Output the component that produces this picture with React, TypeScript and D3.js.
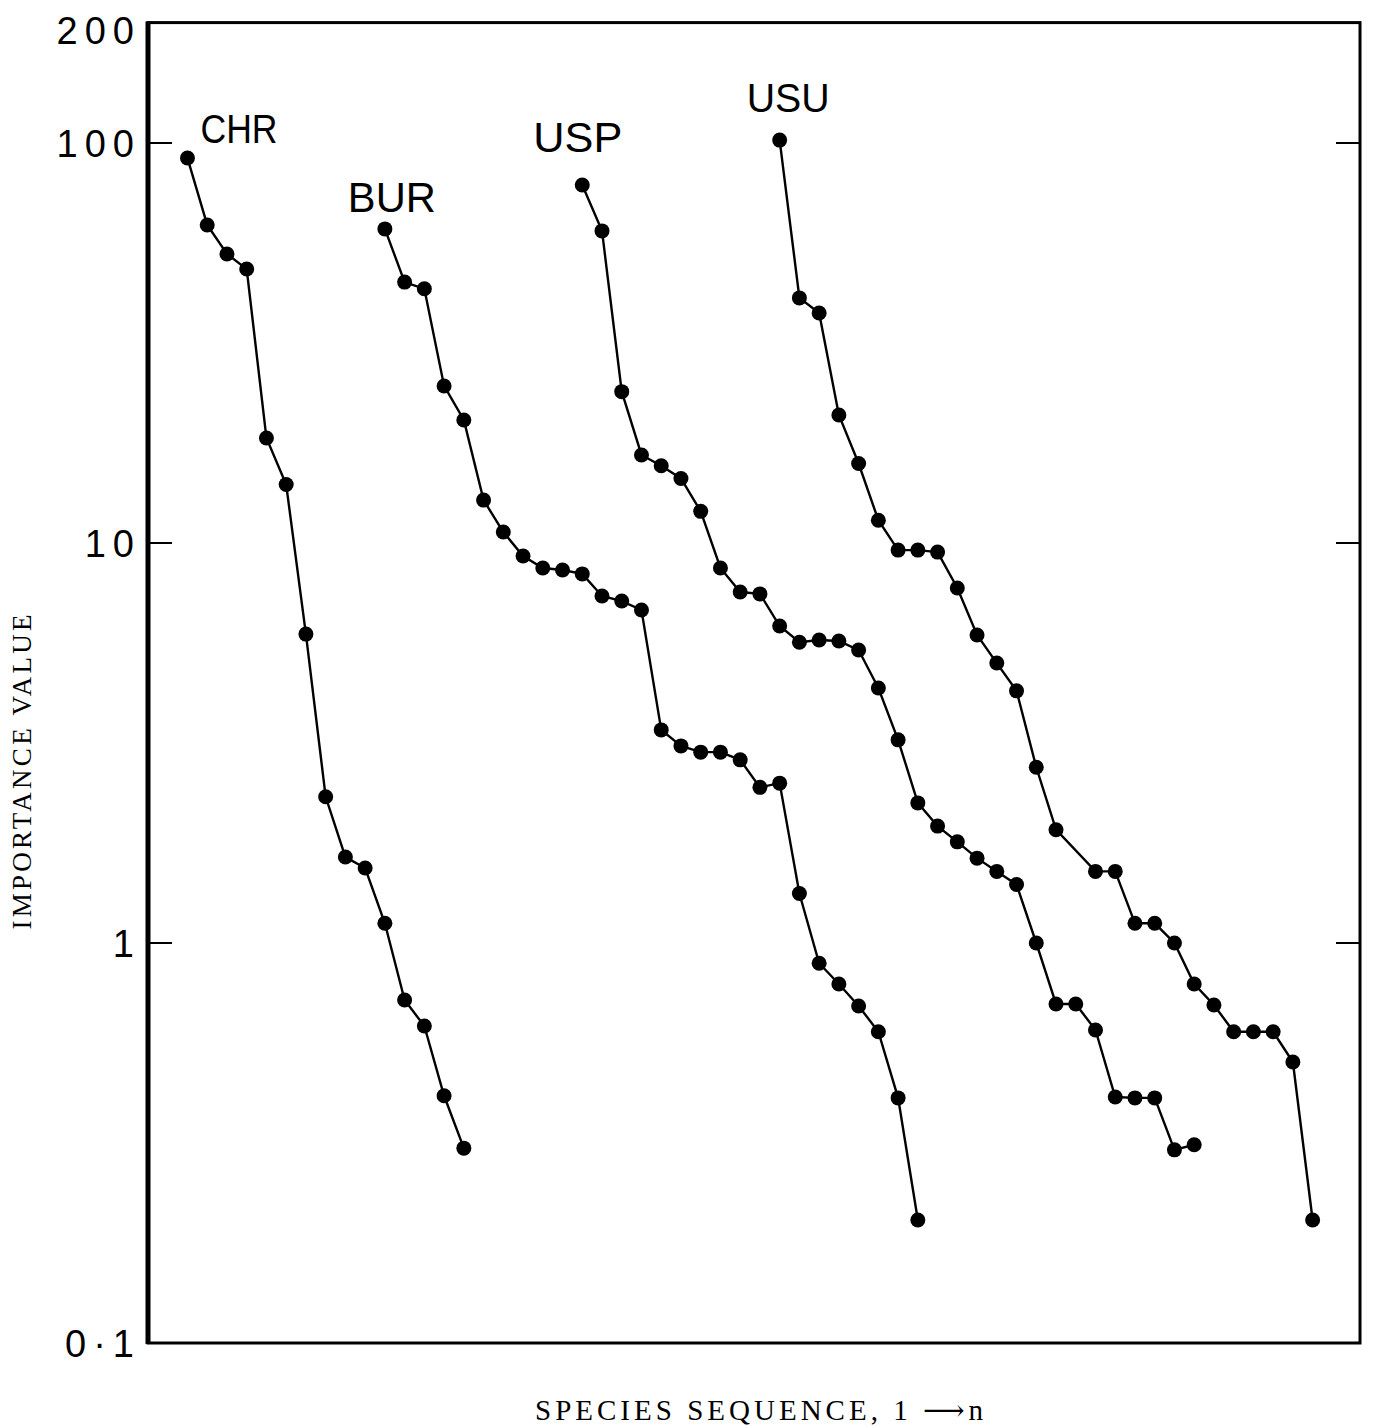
import React from "react";
import * as d3 from "d3";

const W = 1380;
const H = 1426;

// importance values, one list per site
const chrValues = [91.7, 62.4, 52.8, 48.4, 18.3, 14.0, 5.92, 2.32, 1.64, 1.54, 1.12, 0.72, 0.62, 0.415, 0.307];
const burValues = [
  61.0, 44.9, 43.2, 24.7, 20.3, 12.8, 10.65, 9.28, 8.66, 8.56, 8.37, 7.37, 7.16, 6.8,
  3.41, 3.11, 3.0, 3.0, 2.87, 2.45, 2.51, 1.33, 0.89, 0.79, 0.696, 0.6, 0.41, 0.203,
];
const uspValues = [
  78.5, 60.3, 23.9, 16.6, 15.6, 14.5, 12.0, 8.66, 7.54, 7.46, 6.2, 5.65, 5.72, 5.69, 5.4, 4.34,
  3.22, 2.24, 1.96, 1.79, 1.63, 1.51, 1.4, 1.0, 0.704, 0.704, 0.606, 0.412, 0.41, 0.41, 0.304, 0.313,
];
const usuValues = [
  101.7, 41.0, 37.6, 20.9, 15.8, 11.4, 9.6, 9.6, 9.49, 7.72, 5.89, 5.01, 4.27, 2.75, 1.92,
  1.51, 1.51, 1.12, 1.12, 1.0, 0.79, 0.7, 0.6, 0.6, 0.6, 0.504, 0.203,
];

// position along the species-sequence axis
const chrRanks = d3.range(0, 15);
const burRanks = d3.range(10, 38);
const uspRanks = d3.range(20, 52);
const usuRanks = [...d3.range(30, 45), ...d3.range(46, 58)];

const siteNames = ["CHR", "BUR", "USP", "USU"];
const yTickValues = [200, 100, 10, 1, 0.1];
const yTickLabels = ["200", "100", "10", "1", "0\u00b71"];

const series = [
  { name: siteNames[0], ranks: chrRanks, values: chrValues },
  { name: siteNames[1], ranks: burRanks, values: burValues },
  { name: siteNames[2], ranks: uspRanks, values: uspValues },
  { name: siteNames[3], ranks: usuRanks, values: usuValues },
];

// label placement relative to first point of each curve
const labelStyle: Record<string, { dx: number; dy: number; len: number; size: number }> = {
  CHR: { dx: 13, dy: -15, len: 77, size: 40 },
  BUR: { dx: -37, dy: -17, len: 88, size: 43 },
  USP: { dx: -49, dy: -33, len: 89, size: 43 },
  USU: { dx: -33, dy: -28, len: 83, size: 40 },
};

const left = 148;
const right = 1360;
const top = 22.6;
const bottom = 1343;

export default function App() {
  const x = d3.scaleLinear().domain([-2, 59.4]).range([left, right]);
  const y = d3.scaleLog().domain([0.1, 200]).range([bottom, top]);

  const line = d3
    .line<[number, number]>()
    .x((d) => x(d[0]))
    .y((d) => y(d[1]));

  return (
    <>
      <style>{`body{margin:0;background:#fff}`}</style>
      <svg width={W} height={H} style={{ display: "block", background: "#fff" }}>
        {/* frame */}
        <rect x={left} y={y(200)} width={right - left} height={y(0.1) - y(200)} fill="none" stroke="#000" strokeWidth={3} />
        <line x1={left} x2={left} y1={y(200) - 1} y2={y(0.1) + 1} stroke="#000" strokeWidth={5} />

        {/* ticks both sides */}
        {[100, 10, 1].map((t) => (
          <g key={t}>
            <line x1={left} x2={left + 24} y1={y(t)} y2={y(t)} stroke="#000" strokeWidth={2} />
            <line x1={right - 24} x2={right} y1={y(t)} y2={y(t)} stroke="#000" strokeWidth={2} />
          </g>
        ))}

        {yTickValues.map((t, i) => (
          <text
            key={t}
            x={141}
            y={y(t) + (t === 200 ? 21 : 14)}
            textAnchor="end"
            fontFamily="'Liberation Sans', Arial, sans-serif"
            fontSize={38}
            letterSpacing={7}
            fill="#000"
          >
            {yTickLabels[i]}
          </text>
        ))}

        {/* curves */}
        {series.map((s) => {
          const pts: [number, number][] = s.ranks.map((r, i) => [r, s.values[i]]);
          const ls = labelStyle[s.name];
          return (
            <g key={s.name}>
              <path d={line(pts) || ""} fill="none" stroke="#000" strokeWidth={2.4} />
              {pts.map((p, i) => (
                <circle key={i} cx={x(p[0])} cy={y(p[1])} r={7.5} fill="#000" />
              ))}
              <text
                x={x(pts[0][0]) + ls.dx}
                y={y(pts[0][1]) + ls.dy}
                fontFamily="'Liberation Sans', Arial, sans-serif"
                fontSize={ls.size}
                textLength={ls.len}
                lengthAdjust="spacingAndGlyphs"
                fill="#000"
              >
                {s.name}
              </text>
            </g>
          );
        })}

        {/* axis titles */}
        <text
          transform="translate(31,772) rotate(-90)"
          textAnchor="middle"
          fontFamily="'Liberation Serif', 'DejaVu Serif', serif"
          fontSize={27}
          textLength={315}
          lengthAdjust="spacing"
          fill="#000"
        >
          IMPORTANCE VALUE
        </text>
        <text
          x={535}
          y={1420}
          fontFamily="'Liberation Serif', 'DejaVu Serif', serif"
          fontSize={29}
          textLength={448}
          lengthAdjust="spacing"
          fill="#000"
        >
          SPECIES SEQUENCE, 1 {"\u27f6"}n
        </text>
      </svg>
    </>
  );
}
